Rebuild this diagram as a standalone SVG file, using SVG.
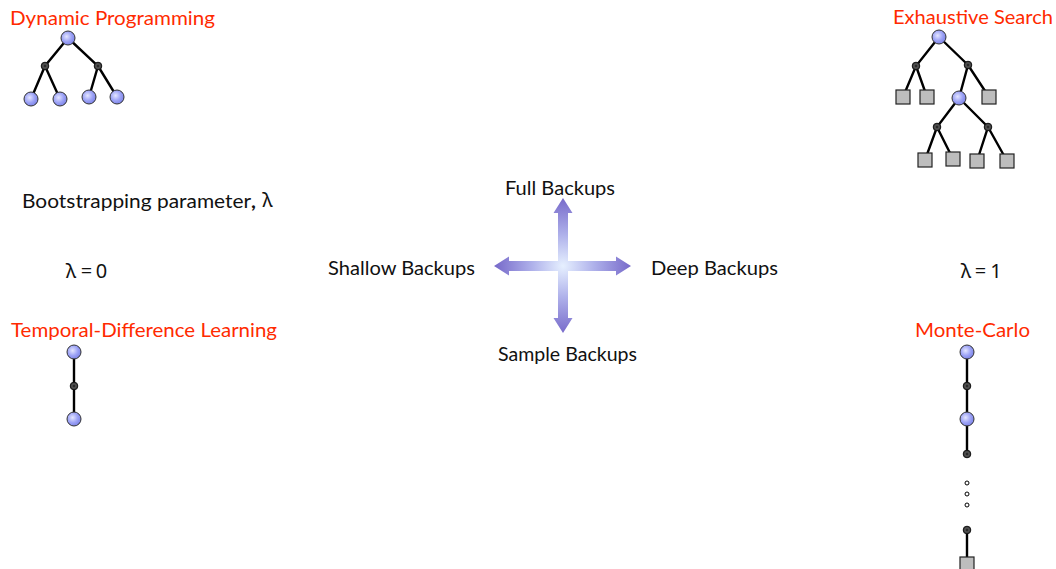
<svg xmlns="http://www.w3.org/2000/svg" width="1056" height="569" viewBox="0 0 1056 569">
  <defs>
    <radialGradient id="ballBlue" cx="0.4" cy="0.4" r="0.6">
      <stop offset="0" stop-color="#e4e6ff"/>
      <stop offset="0.6" stop-color="#9da3f6"/>
      <stop offset="1" stop-color="#7f86e8"/>
    </radialGradient>
    <radialGradient id="ballDark" cx="0.5" cy="0.5" r="0.5">
      <stop offset="0" stop-color="#111"/>
      <stop offset="0.5" stop-color="#555"/>
      <stop offset="1" stop-color="#333"/>
    </radialGradient>
    <radialGradient id="crossGlow" gradientUnits="userSpaceOnUse" cx="563" cy="266" r="70">
      <stop offset="0" stop-color="#e6f0ff"/>
      <stop offset="0.45" stop-color="#aeb0ea"/>
      <stop offset="1" stop-color="#7466c8"/>
    </radialGradient>
    <style>
      .title { font-family: Lato, "Liberation Sans", sans-serif; font-size: 19px; fill: #ff2a00; }
      .lbl { font-family: Lato, "Liberation Sans", sans-serif; font-size: 18.5px; fill: #111; }
      .lam { font-family: "Noto Sans", "DejaVu Sans", sans-serif; font-size: 20px; fill: #111; text-anchor: middle; }
      .edge { stroke: #000; stroke-width: 2.4; fill: none; }
      .state { fill: url(#ballBlue); stroke: #333; stroke-width: 1; }
      .action { fill: url(#ballDark); stroke: #111; stroke-width: 1; }
      .term { fill: #bdbdbd; stroke: #222; stroke-width: 1.2; }
      .gap { fill: #fff; stroke: #000; stroke-width: 1; }
    </style>
  </defs>

  <rect width="1056" height="569" fill="#fff"/>

  <!-- labels -->
  <g id="labels">
    <text class="title" x="10" y="25" textLength="205" lengthAdjust="spacingAndGlyphs">Dynamic Programming</text>
    <text class="title" x="893" y="24" textLength="160" lengthAdjust="spacingAndGlyphs">Exhaustive Search</text>
    <text class="title" x="11" y="337" textLength="266" lengthAdjust="spacingAndGlyphs">Temporal-Difference Learning</text>
    <text class="title" x="915" y="337" textLength="115" lengthAdjust="spacingAndGlyphs">Monte-Carlo</text>
    <text class="lbl" x="22" y="208" textLength="234" lengthAdjust="spacingAndGlyphs">Bootstrapping parameter<tspan font-weight="bold">,</tspan></text>
    <text class="lam" x="267.5" y="207">λ</text>
    <text class="lam" y="278"><tspan x="71">λ</tspan><tspan x="86.5">=</tspan><tspan x="101.5">0</tspan></text>
    <text class="lam" y="278"><tspan x="966">λ</tspan><tspan x="980.5">=</tspan><tspan x="996">1</tspan></text>
    <text class="lbl" x="505" y="195" textLength="110" lengthAdjust="spacingAndGlyphs">Full Backups</text>
    <text class="lbl" x="498" y="361" textLength="139" lengthAdjust="spacingAndGlyphs">Sample Backups</text>
    <text class="lbl" x="328" y="275" textLength="147" lengthAdjust="spacingAndGlyphs">Shallow Backups</text>
    <text class="lbl" x="651" y="275" textLength="127" lengthAdjust="spacingAndGlyphs">Deep Backups</text>
  </g>

  <!-- four-way arrow -->
  <g id="backup-axes">
    <path fill="url(#crossGlow)" d="M563,198 L572.5,213 L568,213 L568,261 L616,261 L616,256.5 L631,266 L616,275.5 L616,271 L568,271 L568,318 L572.5,318 L563,333 L553.5,318 L558,318 L558,271 L509,271 L509,275.5 L494,266 L509,256.5 L509,261 L558,261 L558,213 L553.5,213 Z"/>
  </g>

  <!-- connectors -->
  <g id="connectors">
    <!-- dynamic programming tree -->
    <path class="edge" d="M68,38 L45,66 L31,99 M45,66 L60,99 M68,38 L98,66 L89,97 M98,66 L117,97"/>
    <!-- exhaustive search tree -->
    <path class="edge" d="M939,37 L916,66 L903,97 M916,66 L927,97 M939,37 L968,65 L959,98 M968,65 L989,97 M959,98 L937,127 L925,160 M937,127 L953,159 M959,98 L988,127 L977,161 M988,127 L1007,161"/>
    <!-- TD chain -->
    <path class="edge" d="M74,352 L74,419"/>
    <!-- Monte-Carlo chain -->
    <path class="edge" d="M967,352 L967,454 M967,530 L967,563"/>
  </g>

  <!-- dynamic programming nodes -->
  <g id="dp-tree">
    <circle class="state" cx="68" cy="38" r="7"/>
    <circle class="action" cx="45" cy="66" r="3.8"/>
    <circle class="action" cx="98" cy="66" r="3.8"/>
    <circle class="state" cx="31" cy="99" r="7"/>
    <circle class="state" cx="60" cy="99" r="7"/>
    <circle class="state" cx="89" cy="97" r="7"/>
    <circle class="state" cx="117" cy="97" r="7"/>
  </g>

  <!-- exhaustive search nodes -->
  <g id="es-tree">
    <circle class="state" cx="939" cy="37" r="7"/>
    <circle class="action" cx="916" cy="66" r="3.8"/>
    <circle class="action" cx="968" cy="65" r="3.8"/>
    <rect class="term" x="896" y="90" width="14" height="14"/>
    <rect class="term" x="920" y="90" width="14" height="14"/>
    <rect class="term" x="982" y="90" width="14" height="14"/>
    <circle class="state" cx="959" cy="98" r="7"/>
    <circle class="action" cx="937" cy="127" r="3.8"/>
    <circle class="action" cx="988" cy="127" r="3.8"/>
    <rect class="term" x="918" y="153" width="14" height="14"/>
    <rect class="term" x="946" y="152" width="14" height="14"/>
    <rect class="term" x="970" y="154" width="14" height="14"/>
    <rect class="term" x="1000" y="154" width="14" height="14"/>
  </g>

  <!-- temporal-difference nodes -->
  <g id="td-chain">
    <circle class="state" cx="74" cy="352" r="7"/>
    <circle class="action" cx="74" cy="386" r="3.8"/>
    <circle class="state" cx="74" cy="419" r="7"/>
  </g>

  <!-- monte-carlo nodes -->
  <g id="mc-chain">
    <circle class="state" cx="967" cy="352" r="7"/>
    <circle class="action" cx="967" cy="386" r="3.8"/>
    <circle class="state" cx="967" cy="419" r="7"/>
    <circle class="action" cx="967" cy="454" r="3.8"/>
    <circle class="gap" cx="967" cy="483" r="2"/>
    <circle class="gap" cx="967" cy="494" r="2"/>
    <circle class="gap" cx="967" cy="505" r="2"/>
    <circle class="action" cx="967" cy="530" r="3.8"/>
    <rect class="term" x="960" y="557" width="14" height="14"/>
  </g>
</svg>
